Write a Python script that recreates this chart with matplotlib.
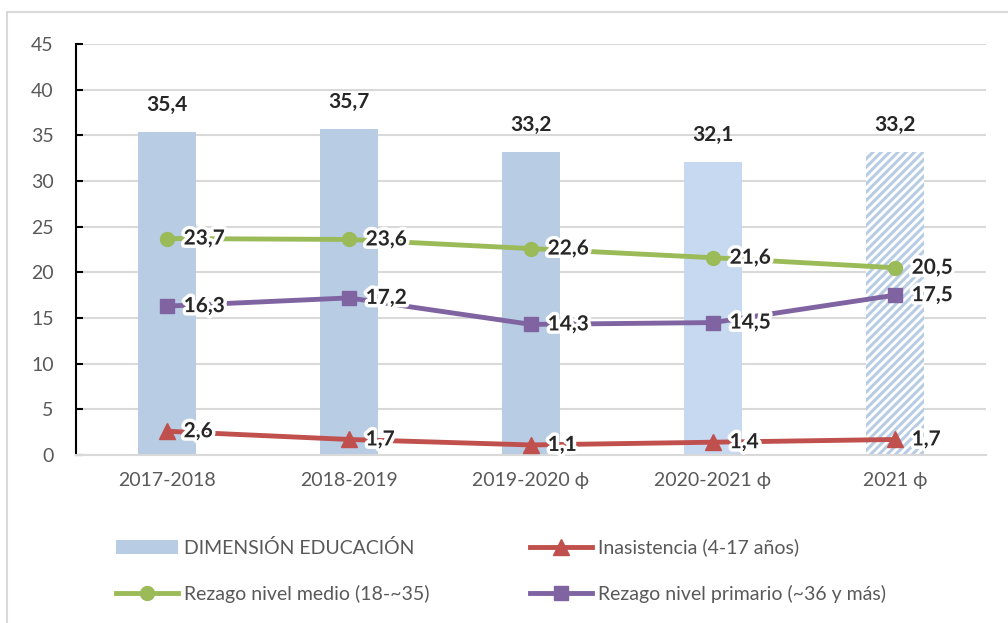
import matplotlib
matplotlib.use("Agg")
from matplotlib import pyplot as plt
from matplotlib.lines import Line2D
from matplotlib.patches import Patch, Rectangle
import matplotlib.patheffects as pe
import numpy as np

plt.rcParams['font.family'] = ['Lato', 'DejaVu Sans']
plt.rcParams['hatch.linewidth'] = 2.2

categories = ['2017-2018', '2018-2019', '2019-2020 ϕ', '2020-2021 ϕ', '2021 ϕ']
educacion = [35.4, 35.7, 33.2, 32.1, 33.2]
inasistencia = [2.6, 1.7, 1.1, 1.4, 1.7]
rezago_medio = [23.7, 23.6, 22.6, 21.6, 20.5]
rezago_primario = [16.3, 17.2, 14.3, 14.5, 17.5]

def fmt(v):
    return f"{v:.1f}".replace('.', ',')

bar_col = '#B8CCE4'
bar_col_light = '#C6D9F1'
green = '#9BBB59'
red = '#C0504D'
purple = '#8064A2'
txt = '#262626'

fig = plt.figure(figsize=(10.08, 6.23), dpi=100)
fig.patches.append(Rectangle((7/1008, -0.1), 1.2, 1 - 12/623 + 0.1, transform=fig.transFigure,
                             fill=False, edgecolor='#D9D9D9', linewidth=1.5))
ax = fig.add_axes([76/1008, 1 - 455/623, 910/1008, 411/623])

x = np.arange(len(categories))
colors = [bar_col, bar_col, bar_col, bar_col_light, 'white']
bars = ax.bar(x, educacion, width=0.32, color=colors, zorder=2)
bars[-1].set_hatch('////')
bars[-1].set_edgecolor(bar_col)
bars[-1].set_linewidth(0)

glow = [pe.withStroke(linewidth=5, foreground='white')]
for xi, v in zip(x, educacion):
    ax.annotate(fmt(v), (xi, v), xytext=(0, 12), textcoords='offset points',
                ha='center', va='bottom', fontsize=15, fontweight='bold', color=txt, zorder=6)

series = [(rezago_medio, green, 'o', 10), (rezago_primario, purple, 's', 10), (inasistencia, red, '^', 11)]
for vals, c, m, ms in series:
    ax.plot(x, vals, color=c, lw=3.5, marker=m, ms=ms, zorder=4)
    for xi, v in zip(x, vals):
        ax.annotate(fmt(v), (xi, v), xytext=(12, 0), textcoords='offset points',
                    ha='left', va='center', fontsize=15, fontweight='bold', color=txt,
                    path_effects=glow, zorder=5)

ax.set_xlim(-0.5, 4.5)
ax.set_ylim(0, 45)
ax.set_yticks(np.arange(0, 46, 5))
ax.set_xticks(x)
ax.set_xticklabels(categories)
ax.grid(axis='y', color='#D9D9D9', lw=1.5, zorder=0)
ax.set_axisbelow(True)
for s in ['top', 'right']:
    ax.spines[s].set_visible(False)
ax.spines['bottom'].set_color('#D9D9D9')
ax.spines['bottom'].set_linewidth(1.5)
ax.spines['left'].set_color('black')
ax.spines['left'].set_linewidth(1.5)
ax.tick_params(axis='y', direction='in', length=5, width=1.5, colors='black', labelcolor='#595959',
               labelsize=14, pad=16)
ax.tick_params(axis='x', length=0, labelcolor='#595959', labelsize=14, pad=12)

# column-first fill: order so rows read DIM/Inasistencia, medio/primario
handles = [
    Patch(facecolor=bar_col, edgecolor='none'),
    Line2D([], [], color=green, lw=3.5, marker='o', ms=10),
    Line2D([], [], color=red, lw=3.5, marker='^', ms=11),
    Line2D([], [], color=purple, lw=3.5, marker='s', ms=10),
]
labels = ['DIMENSIÓN EDUCACIÓN', 'Rezago nivel medio (18-~35)',
          'Inasistencia (4-17 años)', 'Rezago nivel primario (~36 y más)']
fig.legend(handles, labels, ncol=2, loc='upper left', bbox_to_anchor=(98/1008, 1 - 521/623),
           frameon=False, fontsize=14, labelcolor='#595959', handlelength=3.2, handletextpad=0.3,
           columnspacing=5.2, labelspacing=1.45)

plt.savefig('out.png', dpi=100)
